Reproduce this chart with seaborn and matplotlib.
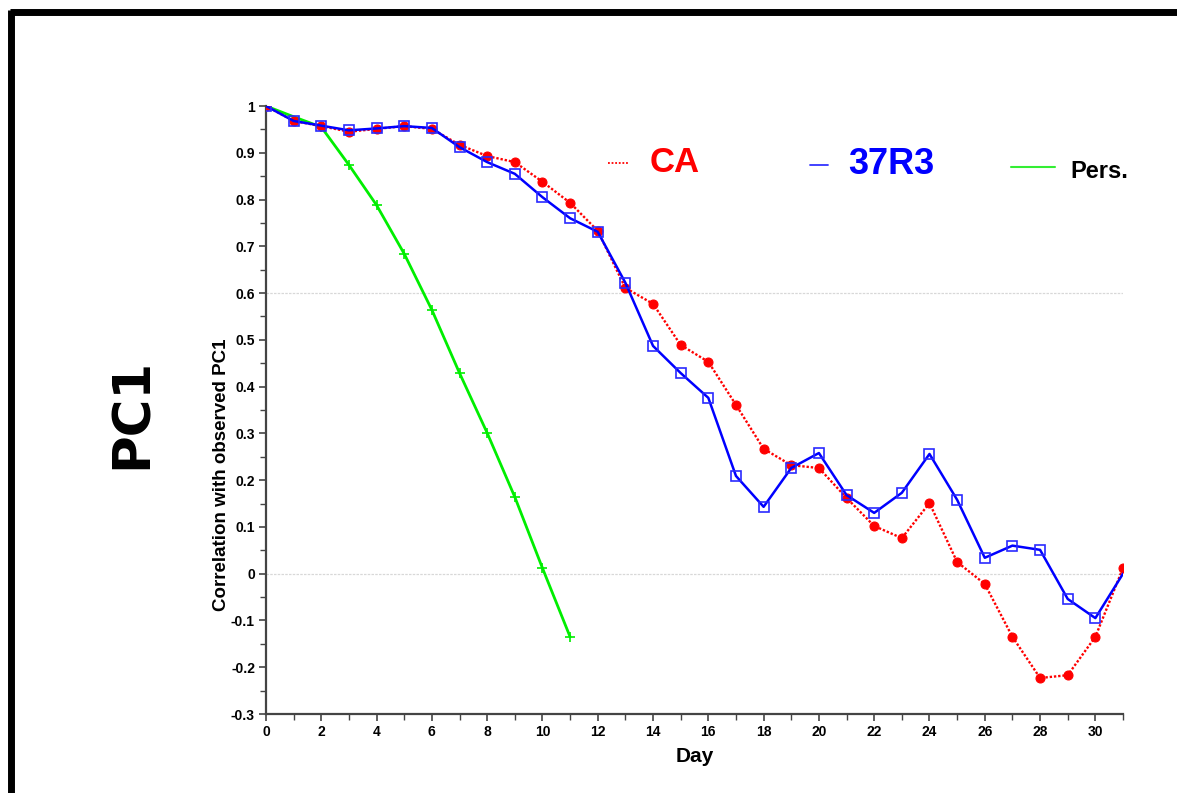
import matplotlib
matplotlib.use("Agg")
import matplotlib.pyplot as plt
from matplotlib.lines import Line2D
from matplotlib.ticker import MultipleLocator, FuncFormatter
import numpy as np
import pandas as pd
import seaborn as sns

sns.set_theme(style="white")
plt.rcParams["font.family"] = ["Liberation Sans", "DejaVu Sans"]
plt.rcParams["text.color"] = "black"
plt.rcParams["axes.labelcolor"] = "black"
plt.rcParams["xtick.color"] = "black"
plt.rcParams["ytick.color"] = "black"

days = list(range(0, 32))
ca = [1.000, 0.968, 0.957, 0.945, 0.951, 0.957, 0.951, 0.917, 0.893, 0.880,
      0.838, 0.793, 0.733, 0.611, 0.577, 0.489, 0.453, 0.361, 0.267, 0.232,
      0.226, 0.162, 0.102, 0.076, 0.151, 0.025, -0.022, -0.135, -0.223, -0.217,
      -0.135, 0.012]
r37 = [1.000, 0.968, 0.958, 0.948, 0.952, 0.957, 0.953, 0.912, 0.880, 0.855,
       0.805, 0.760, 0.731, 0.622, 0.487, 0.429, 0.376, 0.209, 0.143, 0.226,
       0.258, 0.168, 0.130, 0.173, 0.256, 0.158, 0.034, 0.060, 0.051, -0.054,
       -0.095, 0.000]
pers_days = list(range(0, 12))
pers = [1.000, 0.977, 0.955, 0.874, 0.788, 0.684, 0.564, 0.429, 0.301, 0.164,
        0.012, -0.135]

series_names = ["CA", "37R3", "Pers."]
series_colors = ["#ff0000", "#0000ff", "#00ee00"]

df_ca = pd.DataFrame({"day": days, "corr": ca})
df_r37 = pd.DataFrame({"day": days, "corr": r37})
df_pers = pd.DataFrame({"day": pers_days, "corr": pers})

fig = plt.figure(figsize=(11.77, 7.93), dpi=100)
ax = fig.add_axes([266 / 1177, 1 - 714 / 793, (1123 - 266) / 1177, (714 - 106) / 793])

# reference lines
for yv in (0.6, 0.0):
    ax.axhline(yv, color="#d8d8d8", lw=0.9, ls=(0, (2, 1)), zorder=0)

sns.lineplot(data=df_pers, x="day", y="corr", ax=ax, color=series_colors[2],
             lw=2.0, marker="+", markersize=7, markeredgewidth=1.2,
             markeredgecolor=series_colors[2],
             markevery=[0] + list(range(2, 12)), zorder=2)
sns.lineplot(data=df_ca, x="day", y="corr", ax=ax, color=series_colors[0],
             lw=1.7, ls=(0, (1, 0.8)), marker="o", markersize=6.5,
             markeredgecolor=series_colors[0], zorder=3)
sns.lineplot(data=df_r37, x="day", y="corr", ax=ax, color=series_colors[1],
             lw=1.8, marker="s", markersize=7, markerfacecolor="none",
             markeredgecolor="#2a2aff", markeredgewidth=1.2,
             markevery=list(range(0, 31)), zorder=4)

ax.set_xlim(0, 31)
ax.set_ylim(-0.3, 1.0)
ax.xaxis.set_major_locator(MultipleLocator(2))
ax.xaxis.set_minor_locator(MultipleLocator(1))
ax.yaxis.set_major_locator(MultipleLocator(0.1))
ax.yaxis.set_minor_locator(MultipleLocator(0.05))
ax.yaxis.set_major_formatter(FuncFormatter(
    lambda v, p: f"{v:.1f}".rstrip("0").rstrip(".") if abs(v) > 1e-9 else "0"))

for side in ("top", "right"):
    ax.spines[side].set_visible(False)
for side in ("left", "bottom"):
    ax.spines[side].set_color("#444444")
    ax.spines[side].set_linewidth(1.6)

ax.tick_params(axis="both", which="major", direction="out", length=5, width=1.2,
               color="#444444", labelcolor="black", labelsize=10,
               bottom=True, left=True, pad=3)
ax.tick_params(axis="both", which="minor", direction="out", length=4, width=1.0,
               color="#444444", bottom=True, left=True)
for lab in ax.get_xticklabels() + ax.get_yticklabels():
    lab.set_fontweight("bold")
ax.set_xlabel("Day", fontsize=15, fontweight="bold", labelpad=6, color="black")
ax.set_ylabel("")
ax.grid(False)

# rotated axis title and panel label
fig.text(221 / 1177, 1 - 475 / 793, "Correlation with observed PC1", rotation=90,
         ha="center", va="center", fontsize=13.5, fontweight="bold", color="black",
         family=["Liberation Sans Narrow", "Liberation Sans", "DejaVu Sans"])
fig.text(133 / 1177, 1 - 413 / 793, "PC1", rotation=90, ha="center", va="center",
         fontsize=37, fontweight="bold", color="black", family=["DejaVu Sans"])

# legend row
leg_y = 1 - 163 / 793
fig.add_artist(Line2D([608 / 1177, 629 / 1177], [leg_y, leg_y], color=series_colors[0],
                      lw=1.3, ls=(0, (1, 1))))
fig.text(650 / 1177, leg_y, series_names[0], color=series_colors[0], fontsize=25,
         fontweight="bold", va="center", ha="left")
fig.add_artist(Line2D([810 / 1177, 828 / 1177], [leg_y - 0.002, leg_y - 0.002],
                      color="#3333ff", lw=1.3))
fig.text(848 / 1177, leg_y - 0.002, series_names[1], color=series_colors[1], fontsize=26,
         fontweight="bold", va="center", ha="left")
leg_y3 = 1 - 167 / 793
fig.add_artist(Line2D([1011 / 1177, 1055 / 1177], [leg_y3, leg_y3],
                      color="#33ee33", lw=1.5))
fig.text(1070 / 1177, 1 - 171 / 793, series_names[2], color="black", fontsize=17,
         fontweight="bold", va="center", ha="left")

# outer frame
frame_kw = dict(color="black", lw=5, solid_capstyle="butt")
fig.add_artist(Line2D([10 / 1177, 1.0], [1 - 12 / 793, 1 - 12 / 793], **frame_kw))
fig.add_artist(Line2D([11 / 1177, 11 / 1177], [0.0, 1 - 10 / 793], **frame_kw))

fig.savefig("out.png", dpi=100, facecolor="white")
